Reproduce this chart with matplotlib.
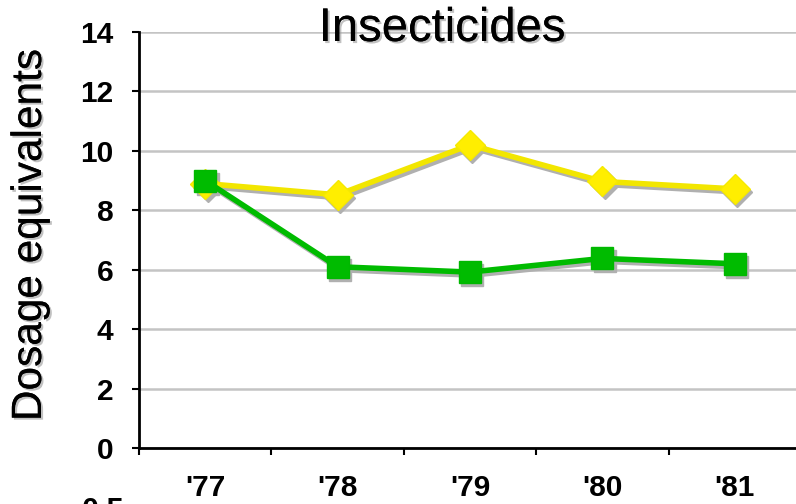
import matplotlib
matplotlib.use("Agg")
import matplotlib.pyplot as plt
import matplotlib.transforms as mtransforms
import matplotlib.patheffects as pe

years = ["'77", "'78", "'79", "'80", "'81"]
yellow_vals = [8.9, 8.52, 10.2, 8.97, 8.72]
green_vals = [9.0, 6.1, 5.92, 6.38, 6.2]
yticks = [0, 2, 4, 6, 8, 10, 12, 14]

plt.rcParams['font.family'] = ['Liberation Sans', 'DejaVu Sans']

fig = plt.figure(figsize=(7.96, 5.04), dpi=100)
ax = fig.add_axes([139/796, 1-448/504, 662/796, 416/504])

x = list(range(len(years)))
shadow = mtransforms.ScaledTranslation(2.5/100, -3/100, fig.dpi_scale_trans)
shadow_tr = ax.transData + shadow

# shadows
ax.plot(x, yellow_vals, color='#b0b0b0', lw=4, marker='D', ms=15,
        mec='#b0b0b0', mfc='#b0b0b0', transform=shadow_tr, zorder=2, clip_on=False)
ax.plot(x, green_vals, color='#b0b0b0', lw=4, marker='s', ms=16,
        mec='#b0b0b0', mfc='#b0b0b0', transform=shadow_tr, zorder=2, clip_on=False)
# series
ax.plot(x, yellow_vals, color='#f2e600', lw=4, marker='D', ms=15,
        mec='#f5e900', mfc='#ffee00', zorder=3, clip_on=False)
ax.plot(x, green_vals, color='#00bb00', lw=4, marker='s', ms=16,
        mec='#00b800', mfc='#00bb00', zorder=4, clip_on=False)

ax.set_xlim(-0.5, 4.5)
ax.set_ylim(0, 14)
ax.set_yticks(yticks)
ax.set_yticklabels([str(v) for v in yticks])
ax.yaxis.grid(True, color='#c4c4c4', lw=1.8)
ax.set_axisbelow(True)

ax.set_xticks(x)
ax.set_xticklabels(years)
ax.set_xticks([i - 0.5 for i in range(len(years) + 1)], minor=True)
ax.tick_params(axis='x', which='major', length=0, pad=19, labelsize=21.5)
ax.tick_params(axis='x', which='minor', length=5, width=1.5, direction='out')
ax.tick_params(axis='y', length=5, width=1.5, direction='out', pad=13.5, labelsize=21.5)
for lab in ax.get_xticklabels() + ax.get_yticklabels():
    lab.set_fontweight('bold')

for s in ['top', 'right']:
    ax.spines[s].set_visible(False)
for s in ['left', 'bottom']:
    ax.spines[s].set_linewidth(2)
    ax.spines[s].set_color('black')

shadow_fx = [pe.withSimplePatchShadow(offset=(1.5, -1.5), shadow_rgbFace='#999999', alpha=0.6), pe.Normal()]
fig.text(442/796, 1-29/504, 'Insecticides', fontsize=34, ha='center', va='center',
         path_effects=shadow_fx)
fig.text(30/796, 1-235/504, 'Dosage equivalents', fontsize=30.5, rotation=90,
         ha='center', va='center', path_effects=shadow_fx)
# partially visible label from a chart below (cut at the bottom edge)
fig.text(103/796, 1-497/504, '0.5', fontsize=22, fontweight='bold',
         ha='center', va='top')

fig.savefig('out.png', dpi=100)
